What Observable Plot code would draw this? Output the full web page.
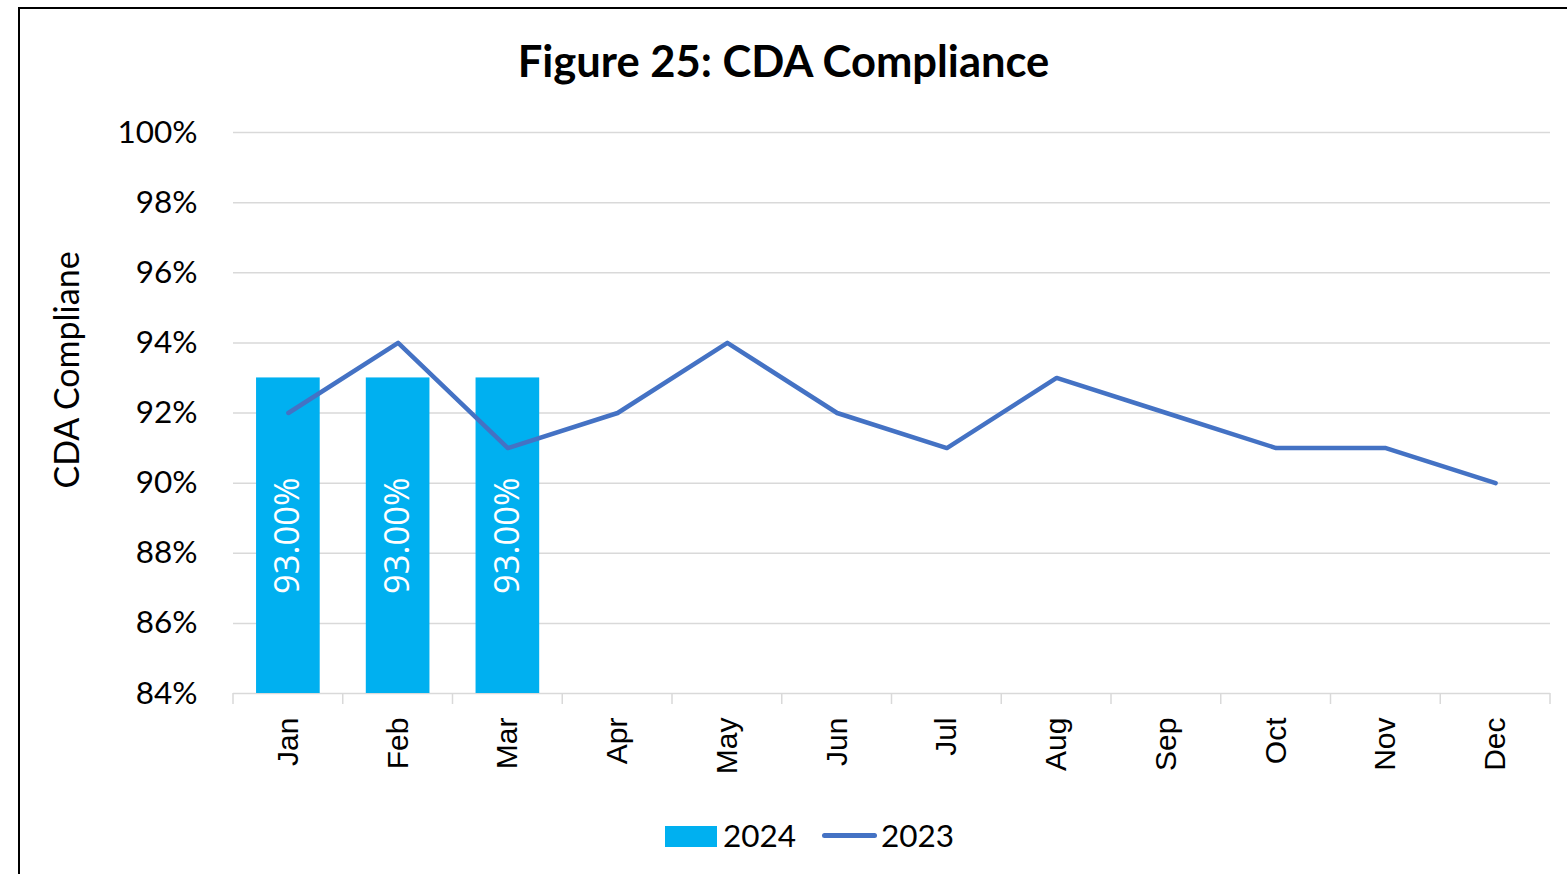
<!DOCTYPE html>
<html><head><meta charset="utf-8">
<script src="https://cdn.jsdelivr.net/npm/d3@7"></script>
<script src="https://cdn.jsdelivr.net/npm/@observablehq/plot@0.6"></script>
<style>
html,body{margin:0;padding:0;width:1567px;height:874px;overflow:hidden;background:#fff;}
#frame{position:absolute;left:18px;top:7px;width:1600px;height:900px;border:2px solid #000;box-sizing:border-box;}
#chart{position:absolute;left:0;top:0;}
#title{position:absolute;left:0;width:1567px;top:34px;text-align:center;font-family:Lato,sans-serif;font-weight:bold;font-size:43.5px;color:#000;white-space:nowrap;}
#ylabel{position:absolute;left:66px;top:370px;transform:translate(-50%,-50%) rotate(-90deg);font-family:Lato,sans-serif;font-size:34px;color:#000;white-space:nowrap;line-height:1;}
#legend{position:absolute;top:815px;left:665px;height:40px;font-family:Lato,sans-serif;font-size:31.5px;color:#000;}
.sw{position:absolute;}
.lt{position:absolute;top:0;line-height:40px;}
</style></head>
<body>
<div id="frame"></div>
<div id="chart"></div>
<div id="title">Figure 25: CDA Compliance</div>
<div id="ylabel">CDA Compliane</div>
<div id="legend">
  <div class="sw" style="left:0;top:11px;width:52px;height:21px;background:#00B0F0"></div>
  <div class="lt" style="left:58px">2024</div>
  <div class="sw" style="left:157px;top:18px;width:55px;height:5px;border-radius:3px;background:#4472C4"></div>
  <div class="lt" style="left:216px">2023</div>
</div>
<script>
const months = ["Jan","Feb","Mar","Apr","May","Jun","Jul","Aug","Sep","Oct","Nov","Dec"];
const series2023 = [92, 94, 91, 92, 94, 92, 91, 93, 92, 91, 91, 90];
const months2024 = ["Jan","Feb","Mar"];
const series2024 = [93, 93, 93];
const yTicks = [84, 86, 88, 90, 92, 94, 96, 98, 100];
const yDomain = [84, 100];

const line = months.map((m, i) => ({month: m, value: series2023[i]}));
const bars = months2024.map((m, i) => ({month: m, value: series2024[i]}));

const boundaries = (index, scales, values, dims) => {
  const g = d3.create("svg:g");
  const x0 = dims.marginLeft, x1 = dims.width - dims.marginRight;
  const n = months.length;
  const yb = dims.height - dims.marginBottom;
  for (let i = 0; i <= n; i++) {
    const x = x0 + (x1 - x0) * i / n;
    g.append("line").attr("x1", x).attr("x2", x).attr("y1", yb).attr("y2", yb + 11)
      .attr("stroke", "#d9d9d9").attr("stroke-width", 1.5);
  }
  return g.node();
};

const chart = Plot.plot({
  width: 1567,
  height: 874,
  marginLeft: 233,
  marginRight: 17,
  marginTop: 132,
  marginBottom: 181,
  style: {background: "transparent", fontFamily: "Lato, sans-serif", color: "#000"},
  x: {type: "band", domain: months, paddingInner: 0.42, paddingOuter: 0.21, round: false},
  y: {domain: yDomain},
  marks: [
    Plot.ruleY(yTicks, {y: d => d, stroke: "#d9d9d9", strokeWidth: 1.5}),
    boundaries,
    Plot.barY(bars, {x: "month", y1: () => yDomain[0], y2: "value", fill: "#00B0F0"}),
    Plot.text(bars, {x: "month", y: d => (yDomain[0] + d.value) / 2, text: d => d.value.toFixed(2) + "%",
      rotate: -90, fill: "#fff", fontSize: 34.5, fontFamily: "'Open Sans', sans-serif"}),
    Plot.lineY(line, {x: "month", y: "value", stroke: "#4472C4", strokeWidth: 4.5, strokeLinecap: "round", strokeLinejoin: "round"}),
    Plot.axisY({ticks: yTicks, tickFormat: d => d + "%", tickSize: 0, tickPadding: 36, fontSize: 31.5, label: null}),
    Plot.axisX({tickSize: 0, tickRotate: -90, tickPadding: 24, fontSize: 30, fontFamily: "'Liberation Sans', Arial, sans-serif", label: null})
  ]
});
document.getElementById("chart").appendChild(chart);
</script>
</body></html>
